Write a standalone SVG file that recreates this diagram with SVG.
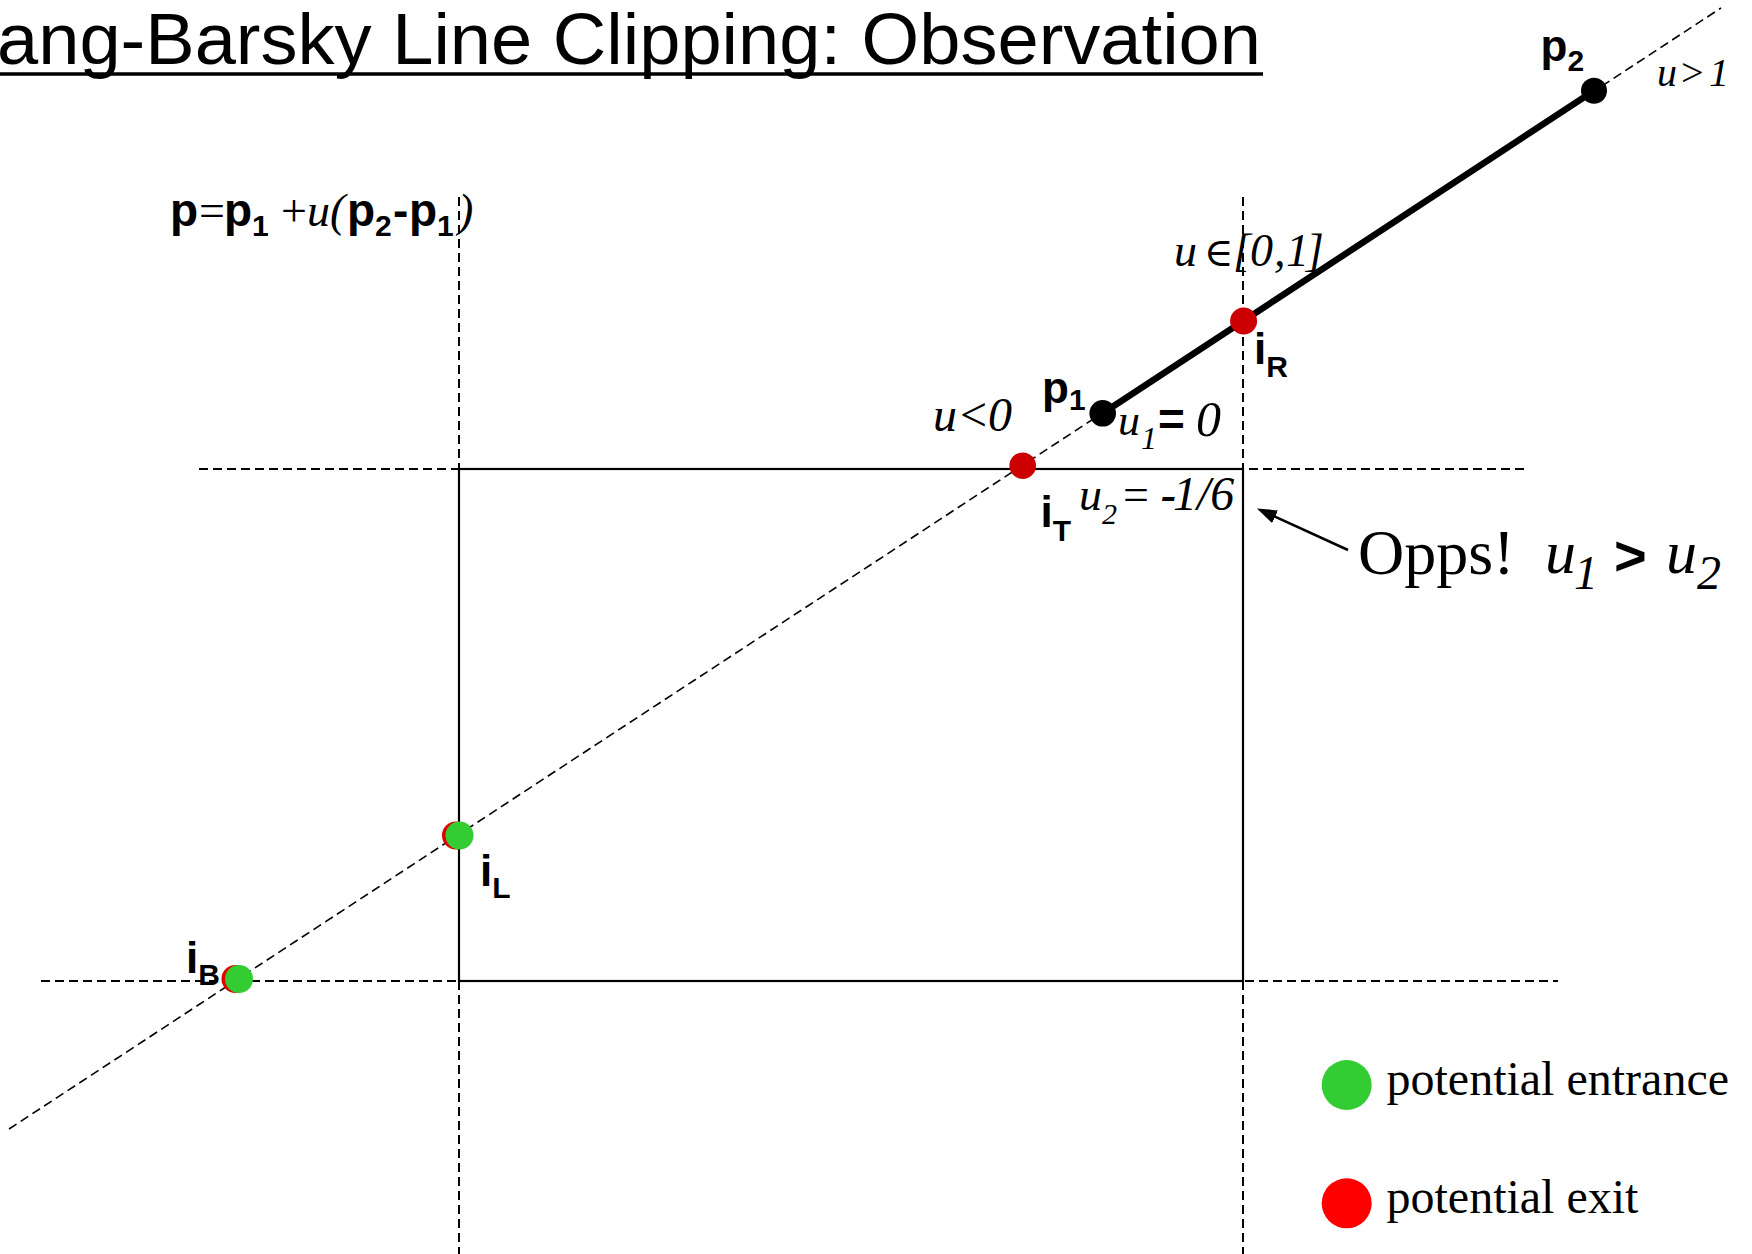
<svg xmlns="http://www.w3.org/2000/svg" width="1752" height="1254" viewBox="0 0 1752 1254">
<defs>
<style>
.dash{stroke:#000;stroke-width:2;stroke-dasharray:9 5;fill:none}
.diag{stroke:#000;stroke-width:1.6;stroke-dasharray:9 5;fill:none}
.solid{stroke:#000;stroke-width:2.2;fill:none}
.sans{font-family:"Liberation Sans",Arial,sans-serif}
.b{font-family:"Liberation Sans",Arial,sans-serif;font-weight:bold}
.serif{font-family:"Liberation Serif","DejaVu Serif",serif}
.it{font-family:"Liberation Serif","DejaVu Serif",serif;font-style:italic}
.exitd{fill:#CC0000}
.entr{fill:#33CC33}
</style>
<marker id="ah" viewBox="0 0 20 14" refX="10" refY="7" markerWidth="20" markerHeight="14" markerUnits="userSpaceOnUse" orient="auto">
<path d="M0,0 L20,7 L0,14 z" fill="#000"/>
</marker>
</defs>
<rect width="1752" height="1254" fill="#fff"/>

<g id="title">
<text class="sans" x="-3" y="64" font-size="73" textLength="1264" lengthAdjust="spacingAndGlyphs">ang-Barsky Line Clipping: Observation</text>
<line x1="0" y1="74" x2="1263" y2="74" stroke="#000" stroke-width="3.5"/>
</g>

<g id="connectors">
<line class="dash" x1="199" y1="469" x2="1525" y2="469"/>
<line class="dash" x1="41" y1="981" x2="1558" y2="981"/>
<line class="dash" x1="459" y1="197" x2="459" y2="1254"/>
<line class="dash" x1="1243" y1="197" x2="1243" y2="1254"/>
<line class="diag" x1="9" y1="1129" x2="1721" y2="8"/>
<rect class="solid" x="459" y="469" width="784" height="512"/>
<line x1="1102.7" y1="413.3" x2="1594" y2="90.7" stroke="#000" stroke-width="6.5"/>
<line x1="1348" y1="550" x2="1266" y2="512.6" stroke="#000" stroke-width="2.5" marker-end="url(#ah)"/>
</g>

<g id="formula">
<text y="226" font-size="46">
<tspan class="b" x="170">p</tspan><tspan class="serif" x="199">=</tspan><tspan class="b" x="224">p</tspan><tspan class="b" x="252" y="236" font-size="30">1</tspan><tspan class="serif" x="281" y="226">+</tspan><tspan class="it" x="307">u(</tspan><tspan class="b" x="347">p</tspan><tspan class="b" x="375" y="236" font-size="30">2</tspan><tspan class="b" x="393" y="226">-</tspan><tspan class="b" x="409">p</tspan><tspan class="b" x="437" y="236" font-size="30">1</tspan><tspan class="it" x="458" y="226">)</tspan>
</text>
</g>

<g id="p2">
<circle cx="1594" cy="90.7" r="13"/>
<text class="b" font-size="44" x="1540.5" y="61">p<tspan font-size="30" y="71">2</tspan></text>
</g>

<g id="p1">
<circle cx="1102.7" cy="413.3" r="13.3"/>
<text class="b" font-size="44" x="1042" y="403">p<tspan font-size="30" y="410">1</tspan></text>
</g>

<g id="iR">
<circle class="exitd" cx="1243.6" cy="321" r="13.5"/>
<text class="b" font-size="44" x="1254" y="364">i<tspan font-size="30" y="377">R</tspan></text>
</g>

<g id="iT">
<circle class="exitd" cx="1022.7" cy="465.7" r="13.3"/>
<text class="b" font-size="44" x="1040.5" y="527">i<tspan font-size="30" y="541">T</tspan></text>
</g>

<g id="iL">
<circle cx="456" cy="835.5" r="14" fill="#E00000"/>
<circle class="entr" cx="459.5" cy="835.5" r="14"/>
<text class="b" font-size="44" x="480" y="886">i<tspan font-size="30" y="898">L</tspan></text>
</g>

<g id="iB">
<circle cx="235.5" cy="979" r="14" fill="#E00000"/>
<circle class="entr" cx="239" cy="979" r="14"/>
<text class="b" font-size="44" x="186" y="973">i<tspan font-size="30" y="985">B</tspan></text>
</g>

<g id="annotations">
<text class="it" font-size="40" y="86"><tspan x="1657">u</tspan><tspan class="serif" font-style="normal" x="1681">&gt;</tspan><tspan x="1709">1</tspan></text>
<text class="it" font-size="46" y="266"><tspan x="1174">u</tspan><tspan class="serif" font-style="normal" font-size="40" x="1204">∈</tspan><tspan x="1233">[</tspan><tspan x="1250">0</tspan><tspan x="1274">,</tspan><tspan x="1286">1</tspan><tspan x="1306">]</tspan></text>
<text class="it" font-size="48" y="431"><tspan x="933">u</tspan><tspan class="serif" font-style="normal" x="960">&lt;</tspan><tspan x="988">0</tspan></text>
<text class="it" font-size="44" y="435"><tspan x="1118">u</tspan><tspan font-size="32" x="1141" y="449">1</tspan><tspan class="b" font-style="normal" font-size="46" x="1158" y="435">=</tspan><tspan font-size="50" x="1196" y="436">0</tspan></text>
<text class="it" font-size="46" y="510"><tspan x="1079">u</tspan><tspan font-size="30" x="1102" y="524">2</tspan><tspan class="serif" font-style="normal" x="1123" y="510">=</tspan><tspan font-weight="bold" x="1161">-</tspan><tspan font-size="48" x="1173">1/6</tspan></text>
<text class="serif" font-size="64" x="1358" y="574">Opps!</text>
<text class="it" font-size="62" y="573"><tspan x="1545">u</tspan><tspan font-size="48" x="1574" y="589">1</tspan><tspan class="b" font-style="normal" font-size="56" x="1614" y="575">&gt;</tspan><tspan x="1666" y="573">u</tspan><tspan font-size="48" x="1697" y="589">2</tspan></text>
</g>

<g id="legend">
<circle class="entr" cx="1346.7" cy="1085" r="25"/>
<text class="serif" font-size="48" x="1386.5" y="1095">potential entrance</text>
<circle cx="1346.7" cy="1203.3" r="25" fill="#FF0000"/>
<text class="serif" font-size="48" x="1386.5" y="1213">potential exit</text>
</g>
</svg>
